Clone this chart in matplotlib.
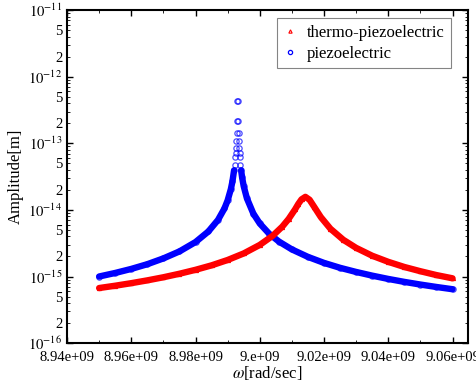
import numpy as np
import matplotlib
matplotlib.use("Agg")
import matplotlib.pyplot as plt
from matplotlib.ticker import FixedLocator, FuncFormatter, LogLocator, MultipleLocator

plt.rcParams['font.family'] = ['Liberation Serif', 'DejaVu Serif']
plt.rcParams['mathtext.fontset'] = 'stix'

# frequency in units of 1e9 rad/sec, amplitude in m
piezo_w = [8.950, 8.955, 8.960, 8.965, 8.970, 8.975, 8.980, 8.984, 8.987, 8.989,
           8.990, 8.991, 8.9915, 8.992, 8.9922, 8.9924, 8.9925, 8.9926, 8.9927,
           8.9928, 8.9929, 8.9930, 8.9932, 8.9933, 8.9934, 8.9935, 8.9936, 8.9937,
           8.9938, 8.9940, 8.9942, 8.9945, 8.995, 8.996, 8.998, 9.000, 9.003,
           9.006, 9.010, 9.015, 9.020, 9.025, 9.030, 9.035, 9.040, 9.045, 9.050,
           9.055, 9.060]
piezo_amp = [1.00e-15, 1.13e-15, 1.30e-15, 1.53e-15, 1.87e-15, 2.38e-15, 3.29e-15,
             4.74e-15, 7.07e-15, 1.05e-14, 1.39e-14, 2.05e-14, 2.69e-14, 3.92e-14,
             4.79e-14, 6.16e-14, 7.18e-14, 8.62e-14, 1.08e-13, 1.44e-13, 2.15e-13,
             4.35e-13, 4.35e-13, 2.15e-13, 1.44e-13, 1.08e-13, 8.62e-14, 7.18e-14,
             6.16e-14, 4.79e-14, 3.92e-14, 3.08e-14, 2.27e-14, 1.49e-14, 8.80e-15,
             6.25e-15, 4.35e-15, 3.34e-15, 2.55e-15, 1.97e-15, 1.60e-15, 1.35e-15,
             1.17e-15, 1.03e-15, 9.19e-16, 8.30e-16, 7.57e-16, 6.96e-16, 6.44e-16]

thermo_w = [8.950, 8.955, 8.960, 8.965, 8.970, 8.975, 8.980, 8.985, 8.990, 8.995,
            9.000, 9.004, 9.007, 9.009, 9.011, 9.012, 9.013, 9.0142, 9.0155, 9.017,
            9.019, 9.022, 9.026, 9.030, 9.035, 9.040, 9.045, 9.050, 9.055, 9.060]
thermo_amp = [6.71e-16, 7.27e-16, 7.94e-16, 8.75e-16, 9.74e-16, 1.10e-15, 1.26e-15,
              1.47e-15, 1.77e-15, 2.22e-15, 2.98e-15, 4.08e-15, 5.60e-15, 7.33e-15,
              1.02e-14, 1.23e-14, 1.44e-14, 1.57e-14, 1.42e-14, 1.10e-14, 7.80e-15,
              5.21e-15, 3.56e-15, 2.69e-15, 2.05e-15, 1.66e-15, 1.39e-15, 1.20e-15,
              1.05e-15, 9.39e-16]

xticks = [8.94, 8.96, 8.98, 9.00, 9.02, 9.04, 9.06]
xticklabels = ['8.94e+09', '8.96e+09', '8.98e+09', '9.e+09', '9.02e+09', '9.04e+09', '9.06e+09']

pw = np.array(piezo_w) * 1e9
pa = np.array(piezo_amp)
tw = np.array(thermo_w) * 1e9
ta = np.array(thermo_amp)

fig = plt.figure(figsize=(4.77, 3.89), dpi=100)
ax = fig.add_axes([0.1405, 0.118, 0.8405, 0.856])

# markers first, then the dense marker band drawn as a thick line over them;
# the spike above the band stays as single markers
ax.plot(tw, ta, ls='none', marker='^', ms=3.0, mfc='none', mec='red', mew=0.8,
        label='thermo-piezoelectric', zorder=1)
ax.plot(pw, pa, ls='none', marker='o', ms=3.8, mfc='none', mec='blue', mew=0.9,
        alpha=0.7, label='piezoelectric', zorder=1)
band = np.where(pa < 4.5e-14, pa, np.nan)
ax.plot(pw, band, color='blue', lw=4.6, solid_capstyle='round',
        solid_joinstyle='round', zorder=2)
ax.plot(tw, ta, color='red', lw=4.6, solid_capstyle='round',
        solid_joinstyle='round', zorder=3)

ax.set_yscale('log')
ax.set_ylim(1e-16, 1e-11)
ax.set_xlim(8.94e9, 9.0648e9)

ax.xaxis.set_major_locator(FixedLocator([v * 1e9 for v in xticks]))
ax.set_xticklabels(xticklabels)
ax.xaxis.set_minor_locator(MultipleLocator(1e7))

ax.yaxis.set_major_locator(LogLocator(base=10, numticks=10))
ax.yaxis.set_major_formatter(FuncFormatter(lambda v, p: r'$10^{%d}$' % round(np.log10(v))))
ax.yaxis.set_minor_locator(LogLocator(base=10, subs=np.arange(2, 10), numticks=20))


def minor_fmt(v, p):
    m = round(v / 10 ** np.floor(np.log10(v) + 1e-9))
    return str(m) if m in (2, 5) else ''


ax.yaxis.set_minor_formatter(FuncFormatter(minor_fmt))

ax.tick_params(which='both', direction='in', top=True, right=True, labelsize=10.5)
ax.tick_params(which='major', length=4, width=1)
ax.tick_params(which='minor', length=2, width=0.6)
ax.tick_params(axis='x', pad=6)
for s in ax.spines.values():
    s.set_linewidth(1.5)

ax.set_xlabel(r'$\omega$[rad/sec]', fontsize=12, labelpad=0)
ax.set_ylabel('Amplitude[m]', fontsize=12, labelpad=3)

leg = ax.legend(loc='upper right', fontsize=12, fancybox=False, edgecolor='0.4',
                handlelength=0.8, handletextpad=0.6, borderpad=0.4,
                labelspacing=0.3, borderaxespad=0,
                bbox_to_anchor=(0.958, 0.976), markerscale=0.8)
leg.get_frame().set_linewidth(0.8)
for h in leg.legend_handles:
    h.set_alpha(1)

fig.savefig('out.png', dpi=100)
